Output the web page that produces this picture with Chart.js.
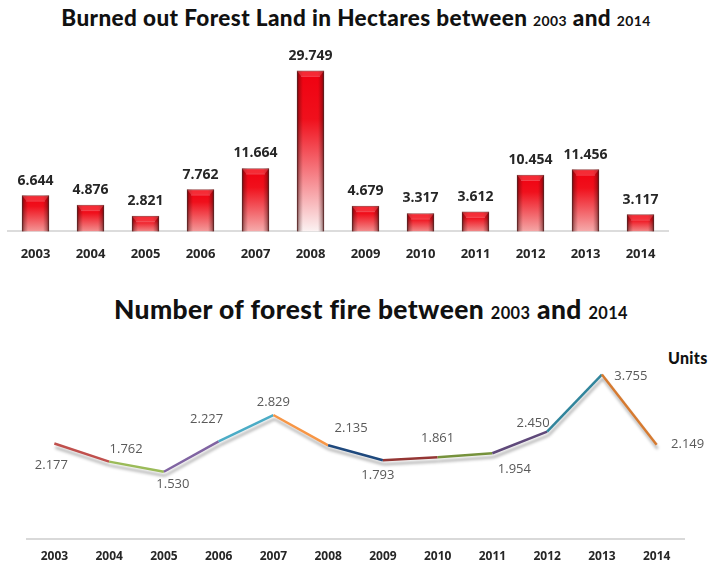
<!DOCTYPE html>
<html>
<head>
<meta charset="utf-8">
<script src="https://cdn.jsdelivr.net/npm/chart.js@4.4.1/dist/chart.umd.min.js"></script>
<style>
  html, body { margin: 0; padding: 0; background: #fff; width: 712px; height: 565px; overflow: hidden; }
  body { position: relative; }
  .title { position: absolute; left: 0; width: 712px; text-align: center; white-space: nowrap;
           font-family: Lato, "DejaVu Sans", sans-serif; font-weight: 900; color: #111;
           letter-spacing: 0.4px; line-height: 1; }
  .title small { font-size: 0.62em; font-weight: 700; }
  #t1 { top: 7px; font-size: 22.5px; }
  #t2 { top: 296px; left: 15px; font-size: 26.4px; }
  #units { position: absolute; top: 348px; left: 668px; font-family: Lato, sans-serif;
           font-weight: 900; font-size: 16px; color: #111; letter-spacing: 0.3px; }
  #wrap1 { position: absolute; left: 0; top: 40px; width: 712px; height: 240px; }
  #wrap2 { position: absolute; left: 0; top: 330px; width: 712px; height: 245px; }
</style>
</head>
<body>
<div class="title" id="t1">Burned out Forest Land in Hectares between <small>2003</small> and <small>2014</small></div>
<div id="wrap1"><canvas id="areaChart"></canvas></div>
<div class="title" id="t2">Number of forest fire between <small>2003</small> and <small>2014</small></div>
<div id="units">Units</div>
<div id="wrap2"><canvas id="fireChart"></canvas></div>

<script>
// Years shown on both charts
const years = ['2003', '2004', '2005', '2006', '2007', '2008', '2009', '2010', '2011', '2012', '2013', '2014'];

// Burned forest land, thousands of hectares
const burnedArea = [6.644, 4.876, 2.821, 7.762, 11.664, 29.749, 4.679, 3.317, 3.612, 10.454, 11.456, 3.117];

// Number of forest fires, thousands
const fireCount = [2.177, 1.762, 1.530, 2.227, 2.829, 2.135, 1.793, 1.861, 1.954, 2.450, 3.755, 2.149];

Chart.defaults.font.family = "'Open Sans', 'Liberation Sans', sans-serif";
Chart.defaults.animation = false;

const fmt = v => v.toFixed(3);

function mixHex(a, b, t) {
  const pa = [1, 3, 5].map(i => parseInt(a.substr(i, 2), 16));
  const pb = [1, 3, 5].map(i => parseInt(b.substr(i, 2), 16));
  const c = pa.map((x, i) => Math.round(x + (pb[i] - x) * t));
  return 'rgb(' + c.join(',') + ')';
}

// Glossy red fill for each bar: bright red on top fading towards the base
function barFill(ctx) {
  const chart = ctx.chart;
  if (!chart.chartArea || ctx.type !== 'data') return '#e8000c';
  const y = chart.scales.y;
  const top = y.getPixelForValue(ctx.raw);
  const base = y.getPixelForValue(0);
  const t = Math.min(1, (base - top) / 150);
  const g = chart.ctx.createLinearGradient(0, top, 0, base);
  g.addColorStop(0, '#f00010');
  g.addColorStop(0.3, '#f0101c');
  g.addColorStop(1, mixHex('#f07a7a', '#fbf2f2', t));
  return g;
}

// Bevel shading on the bars plus the value labels above them
const barDecor = {
  id: 'barDecor',
  afterDatasetsDraw(chart) {
    const c = chart.ctx;
    const meta = chart.getDatasetMeta(0);
    meta.data.forEach((el, i) => {
      const { x, y, base, width } = el.getProps(['x', 'y', 'base', 'width'], true);
      const l = x - width / 2, r = x + width / 2;
      c.save();
      const hg = c.createLinearGradient(l, 0, r, 0);
      hg.addColorStop(0, 'rgba(60,10,10,0.7)');
      hg.addColorStop(0.1, 'rgba(60,10,10,0.28)');
      hg.addColorStop(0.22, 'rgba(60,10,10,0)');
      hg.addColorStop(0.78, 'rgba(60,10,10,0)');
      hg.addColorStop(0.9, 'rgba(60,10,10,0.28)');
      hg.addColorStop(1, 'rgba(60,10,10,0.7)');
      c.fillStyle = hg;
      c.fillRect(l, y, width, base - y);
      // top bevel
      c.beginPath();
      c.moveTo(l, y);
      c.lineTo(r, y);
      c.lineTo(r - 4, y + 5);
      c.lineTo(l + 4, y + 5);
      c.closePath();
      c.fillStyle = 'rgba(255,120,120,0.35)';
      c.fill();
      c.fillStyle = 'rgba(255,255,255,0.25)';
      c.fillRect(l + 4, y + 5, width - 8, 1);
      c.restore();

      c.save();
      c.font = "bold 14px 'Open Sans', sans-serif";
      c.fillStyle = '#262626';
      c.textAlign = 'center';
      c.textBaseline = 'middle';
      c.fillText(fmt(burnedArea[i]), x, y - 15);
      c.restore();
    });
  }
};

new Chart(document.getElementById('areaChart'), {
  type: 'bar',
  data: {
    labels: years,
    datasets: [{
      data: burnedArea,
      backgroundColor: barFill,
      borderColor: 'rgba(110,50,50,0.85)',
      borderWidth: 1,
      barThickness: 27
    }]
  },
  options: {
    responsive: true,
    maintainAspectRatio: false,
    layout: { padding: { left: 8, right: 44, top: 8, bottom: 3 } },
    plugins: { legend: { display: false }, tooltip: { enabled: false } },
    scales: {
      x: {
        grid: { display: false, drawTicks: false },
        border: { display: true, color: '#dcdcdc', width: 2 },
        ticks: { padding: 15, color: '#262626', font: { size: 13, weight: 'bold' } }
      },
      y: { display: false, min: 0, max: 34 }
    }
  },
  plugins: [barDecor]
});

// Line segment colours, one per year-to-year step
const segmentColors = ['#c0504d', '#9bbb59', '#8064a2', '#4bacc6', '#f79646', '#1f497d',
                       '#943634', '#76923c', '#5f497a', '#31859c', '#d67a30'];

// Soft drop shadow under the line and the value labels next to each point
const lineDecor = {
  id: 'lineDecor',
  beforeDatasetDraw(chart) {
    const c = chart.ctx;
    c.save();
    c.shadowColor = 'rgba(0,0,0,0.3)';
    c.shadowBlur = 3;
    c.shadowOffsetX = 1;
    c.shadowOffsetY = 4;
  },
  afterDatasetDraw(chart) {
    chart.ctx.restore();
  },
  afterDatasetsDraw(chart, args, opts) {
    const c = chart.ctx;
    const meta = chart.getDatasetMeta(0);
    c.save();
    c.font = "13px 'Open Sans', sans-serif";
    c.fillStyle = '#595959';
    c.textAlign = 'center';
    c.textBaseline = 'middle';
    meta.data.forEach((pt, i) => {
      const [dx, dy] = opts.offsets[i];
      c.fillText(fmt(fireCount[i]), pt.x + dx, pt.y + dy);
    });
    c.restore();
  }
};

new Chart(document.getElementById('fireChart'), {
  type: 'line',
  data: {
    labels: years,
    datasets: [{
      data: fireCount,
      borderWidth: 2.5,
      pointRadius: 0,
      tension: 0,
      borderColor: segmentColors[0],
      segment: { borderColor: ctx => segmentColors[ctx.p0DataIndex] }
    }]
  },
  options: {
    responsive: true,
    maintainAspectRatio: false,
    layout: { padding: { left: 27, right: 28, top: 12, bottom: 0 } },
    plugins: {
      legend: { display: false },
      tooltip: { enabled: false },
      lineDecor: {
        offsets: [[-3, 22], [17, -12], [9, 13], [-12, -22], [0, -13], [23, -17],
                  [-5, 15], [0, -19], [22, 16], [-14, -8], [29, 2], [31, 0]]
      }
    },
    scales: {
      x: {
        offset: true,
        grid: { display: false, drawTicks: false },
        border: { display: true, color: '#d9d9d9', width: 2 },
        ticks: { padding: 11, color: '#262626', font: { size: 12, weight: 'bold' } }
      },
      y: { display: false, min: 0, max: 4.5 }
    }
  },
  plugins: [lineDecor]
});
</script>
</body>
</html>
